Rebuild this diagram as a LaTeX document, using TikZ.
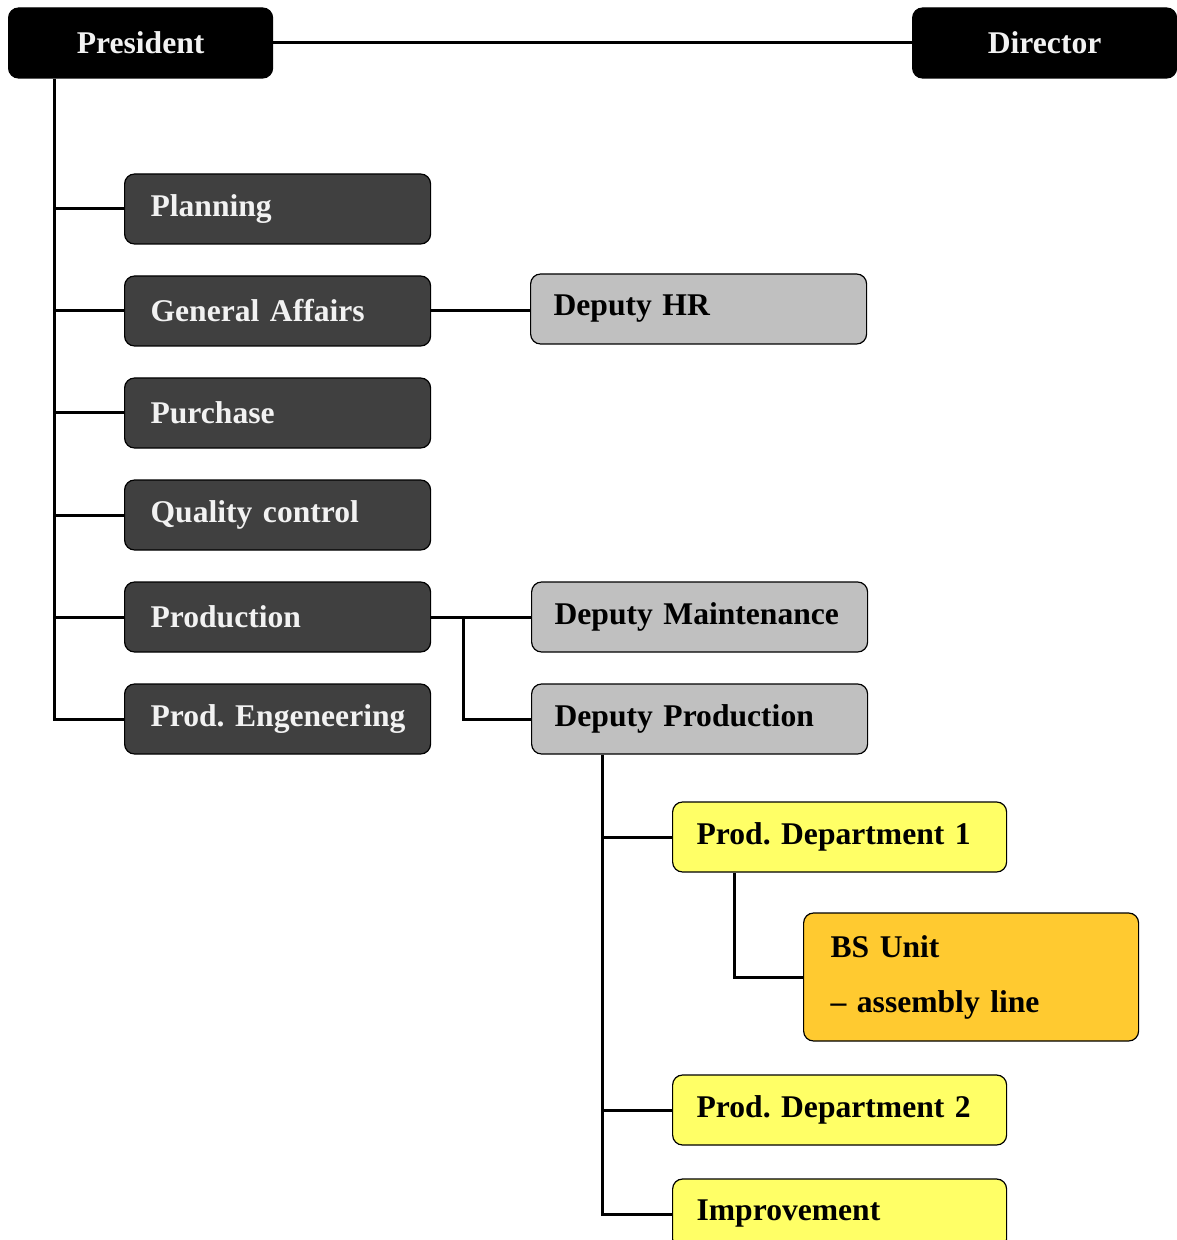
\documentclass[tikz,border=0pt]{standalone}
\usepackage{fontspec}
\setmainfont{Liberation Serif}
\usetikzlibrary{positioning}

\definecolor{boxdark}{HTML}{404040}
\definecolor{boxgrey}{HTML}{C0C0C0}
\definecolor{boxyellow}{HTML}{FFFF66}
\definecolor{boxorange}{HTML}{FFCA30}
\definecolor{paletext}{HTML}{F2F2F2}

\begin{document}
\frenchspacing
\hyphenpenalty=10000
\begin{tikzpicture}
	[x=0.5pt,y=-0.5pt,
		box/.style={draw=black,line width=0.6pt,rounded corners=5pt,anchor=west,
		minimum height=35pt,align=left,
		font=\fontsize{15.8}{20}\selectfont\bfseries},
		topbox/.style={box,fill=black,text=paletext,minimum width=132pt,align=center},
		darkbox/.style={box,fill=boxdark,text=paletext,inner xsep=13pt,text width=127pt},
		deputybox/.style={box,fill=boxgrey,inner xsep=11.5pt,text width=145pt},
		deptbox/.style={box,fill=boxyellow,inner xsep=12pt,text width=143pt},
		unitbox/.style={box,fill=boxorange,inner xsep=13.5pt,text width=140.5pt,
		minimum height=64pt,font=\fontsize{15.8}{27.5}\selectfont\bfseries},
		link/.style={draw=black,line width=1.5pt}]
	\useasboundingbox (0,0) rectangle (1176,1240);

	\node (pres) at (8,43) [topbox] {President};
	\node (dir) at (912,43) [topbox] {Director};

	\node (plan) at (124,209) [darkbox] {Planning};
	\node (ga) at (124,311) [darkbox] {General Affairs};
	\node (pur) at (124,413) [darkbox] {Purchase};
	\node (qc) at (124,515) [darkbox] {Quality control};
	\node (prod) at (124,617) [darkbox] {Production};
	\node (eng) at (124,719) [darkbox] {Prod.~Engeneering};

	\node (dhr) at (530,309) [deputybox] {Deputy HR};
	\node (dmain) at (531,617) [deputybox] {Deputy~Maintenance};
	\node (dprod) at (531,719) [deputybox] {Deputy Production};

	\node (pd1) at (672,837) [deptbox] {Prod. Department~1};
	\node (bs) at (803,977) [unitbox] {BS Unit\\-- assembly line};
	\node (pd2) at (672,1110) [deptbox] {Prod. Department~2};
	\node (impr) at (672,1214) [deptbox] {Improvement};

	\draw[link] (pres) -- (dir);
	\coordinate (trunk) at ([xshift=23pt]pres.south west);
	\draw[link] (trunk) |- (eng.west);
	\foreach \n in {plan,ga,pur,qc,prod}
		\draw[link] (trunk |- \n.west) -- (\n.west);

	\draw[link] (ga.east) -- (ga.east -| dhr.west);
	\draw[link] (prod.east) -- (dmain.west);
	\coordinate (fork) at ([xshift=16pt]prod.east);
	\draw[link] (fork) |- (dprod.west);

	\coordinate (dptrunk) at ([xshift=35.5pt]dprod.south west);
	\draw[link] (dptrunk) |- (impr.west);
	\foreach \n in {pd1,pd2}
		\draw[link] (dptrunk |- \n.west) -- (\n.west);
	\draw[link] ([xshift=31pt]pd1.south west) |- (bs.west);
\end{tikzpicture}
\end{document}
